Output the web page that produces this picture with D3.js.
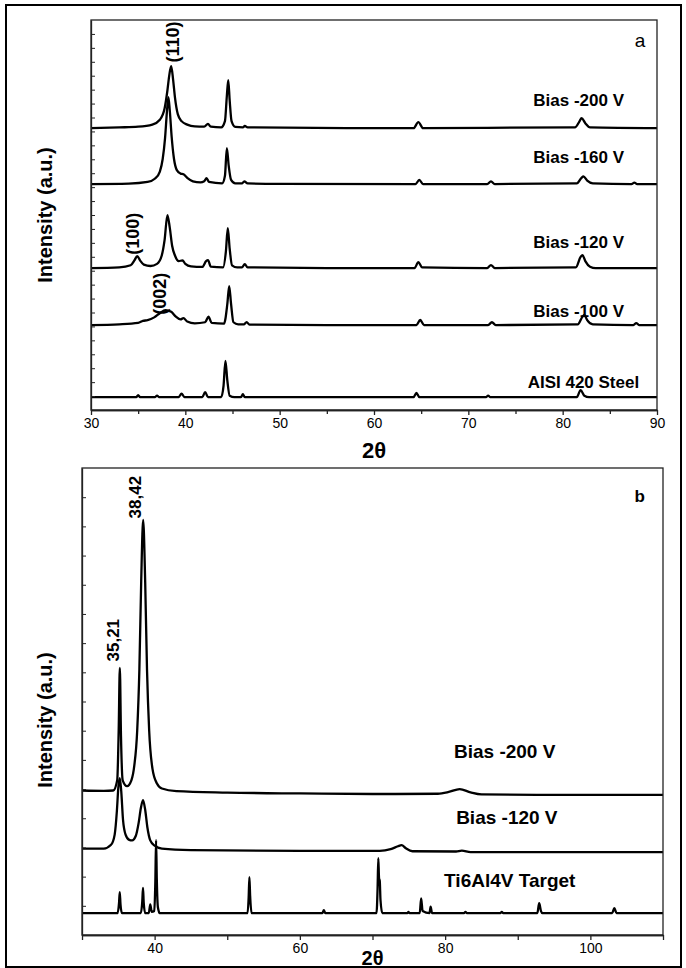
<!DOCTYPE html>
<html><head><meta charset="utf-8">
<script src="https://cdn.jsdelivr.net/npm/d3@7"></script>
<style>
body{margin:0;background:#fff}
svg{display:block}
text{font-family:"Liberation Sans",Arial,Helvetica,sans-serif;fill:#000}
</style>
</head><body>
<svg id="chart" width="686" height="968"></svg>
<script>
// ---------- Panel a data: [2theta, relative intensity (a.u.)] ----------
const seriesA = ["Bias -200 V", "Bias -160 V", "Bias -120 V", "Bias -100 V", "AISI 420 Steel"];
const offsetsA = [20.24, 16.22, 10.19, 6.10, 0.93];
const bias200A = [[30,0],[33,0.05],[35,0.1],[36.5,0.25],[37.3,0.6],[37.8,1.4],[38.1,2.7],[38.3,3.8],[38.5,4.45],[38.7,3.5],[38.9,2.2],[39.2,1.0],[39.6,0.5],[40.2,0.25],[41,0.12],[42,0.1],[42.4,0.3],[42.7,0.1],[43.8,0.05],[44.2,0.5],[44.4,2.3],[44.55,3.45],[44.7,2.0],[44.9,0.5],[45.3,0.08],[46.1,0.05],[46.3,0.15],[46.6,0.05],[60,0],[64.2,0],[64.7,0.43],[65.2,0],[72,0.02],[81.3,0.05],[81.8,0.5],[82.0,0.72],[82.4,0.35],[82.9,0.05],[90,0]];
const bias160A = [[30,0],[34,0.03],[36,0.15],[36.8,0.4],[37.3,0.9],[37.6,1.8],[37.85,3.3],[38.05,5.2],[38.2,6.25],[38.35,5.3],[38.55,3.4],[38.8,1.8],[39.1,1.0],[39.5,0.75],[39.8,0.7],[40.2,0.45],[40.8,0.2],[41.6,0.12],[42.0,0.2],[42.25,0.43],[42.5,0.15],[43.9,0.05],[44.2,0.6],[44.4,2.58],[44.6,1.3],[44.85,0.3],[45.3,0.05],[46.0,0.05],[46.25,0.2],[46.6,0.05],[50,0.02],[64.4,0],[64.8,0.3],[65.2,0],[72.0,0],[72.4,0.2],[72.8,0],[81.5,0.05],[82.0,0.45],[82.2,0.55],[82.6,0.25],[83.2,0.05],[87.3,0],[87.6,0.1],[87.9,0],[90,0]];
const bias120A = [[30,0],[33,0.05],[34.2,0.2],[34.6,0.55],[34.9,0.85],[35.2,0.55],[35.6,0.25],[36.3,0.15],[37.0,0.3],[37.5,0.9],[37.8,2.0],[38.1,3.8],[38.35,2.9],[38.6,1.6],[38.9,0.9],[39.3,0.5],[39.7,0.55],[40.0,0.3],[40.6,0.12],[41.8,0.08],[42.2,0.5],[42.4,0.57],[42.7,0.1],[44.0,0.05],[44.3,1.2],[44.5,2.87],[44.7,1.4],[44.95,0.2],[45.5,0.05],[46.0,0.05],[46.3,0.29],[46.6,0.05],[55,0],[64.3,0],[64.7,0.43],[65.1,0.05],[72.0,0],[72.4,0.21],[72.8,0],[81.4,0.05],[81.9,0.8],[82.1,0.93],[82.4,0.5],[82.9,0.1],[83.5,0],[90,0]];
const bias100A = [[30,0],[33,0.05],[35,0.15],[35.5,0.3],[36,0.35],[36.7,0.55],[37.3,0.85],[37.9,1.07],[38.5,0.95],[39.0,0.6],[39.5,0.4],[39.8,0.5],[40.2,0.25],[41,0.12],[42.1,0.2],[42.45,0.6],[42.8,0.15],[44.1,0.1],[44.45,1.5],[44.65,2.8],[44.85,1.5],[45.1,0.2],[45.6,0.05],[46.2,0.05],[46.5,0.21],[46.8,0.03],[55,0],[64.5,0],[64.9,0.36],[65.3,0],[72.1,0],[72.5,0.2],[72.9,0],[81.6,0.05],[82.1,0.6],[82.3,0.72],[82.6,0.35],[83.2,0.05],[87.5,0],[87.8,0.14],[88.1,0],[90,0]];
const steelA = [[30,0],[34.8,0],[35.0,0.14],[35.2,0],[36.8,0],[37.0,0.1],[37.2,0],[39.3,0],[39.6,0.25],[39.9,0],[41.8,0],[42.1,0.36],[42.4,0],[43.8,0],[44.05,0.8],[44.25,2.6],[44.45,1.2],[44.7,0.1],[45.2,0],[45.9,0],[46.1,0.2],[46.3,0],[64.2,0],[64.5,0.29],[64.8,0],[71.9,0],[72.1,0.1],[72.3,0],[81.5,0],[81.9,0.5],[82.3,0.1],[82.8,0],[90,0]];
const xTicksA = [30, 40, 50, 60, 70, 80, 90];
const xMinorA = [35, 45, 55, 65, 75, 85];
const yTicksA = [1,2,3,4,5,6,7,8,9,10,11,12,13,14,15,16,17,18,19,20,21,22,23,24,25,26,27];
const labelsA = [[81.7, 22.25], [81.7, 18.16], [81.7, 12.06], [81.7, 7.04], [82.2, 2.01]];
const peakTextA = ["(110)", "(100)", "(002)"];
const peakPosA = [[38.68, 26.42], [34.4, 12.65], [37.3, 8.35]];

// ---------- Panel b data ----------
const seriesB = ["Bias -200 V", "Bias -120 V", "Ti6Al4V Target"];
const offsetsB = [4.80, 2.84, 0.75];
const bias200B = [[30,0.15],[33,0.14],[34.3,0.15],[34.85,0.5],[35.05,2.2],[35.21,4.35],[35.37,2.0],[35.6,0.5],[36.2,0.3],[36.8,0.5],[37.2,1.0],[37.6,2.2],[37.9,4.3],[38.15,7.3],[38.42,9.42],[38.7,7.3],[38.95,4.3],[39.25,2.2],[39.7,0.9],[40.3,0.4],[41,0.22],[43,0.13],[50,0.08],[60,0.05],[70,0.03],[79,0.04],[80.5,0.1],[82,0.2],[83.5,0.09],[85,0.02],[95,0],[110,0]];
const bias120B = [[30,0.12],[33,0.12],[34.0,0.25],[34.5,0.6],[34.8,1.4],[35.0,2.2],[35.2,2.53],[35.4,2.1],[35.65,1.1],[36.0,0.6],[36.5,0.42],[36.9,0.4],[37.4,0.55],[37.8,1.0],[38.1,1.5],[38.4,1.78],[38.7,1.45],[39.0,0.85],[39.4,0.4],[40,0.22],[41,0.12],[45,0.07],[60,0.04],[71,0.04],[72.5,0.1],[73.5,0.2],[74.0,0.24],[74.6,0.13],[75.5,0.03],[81.5,0.02],[82.3,0.05],[83.5,0],[110,0]];
const targetB = [[30,0],[34.9,0],[35.1,0.35],[35.2,0.72],[35.3,0.3],[35.5,0],[38.1,0],[38.3,0.4],[38.4,0.86],[38.5,0.35],[38.7,0],[39.2,0],[39.4,0.3],[39.6,0.04],[39.95,0.07],[40.1,1.1],[40.2,2.5],[40.3,1.15],[40.45,0.2],[40.7,0],[52.8,0],[52.95,0.55],[53.05,1.23],[53.15,0.6],[53.35,0],[63.1,0],[63.3,0.1],[63.5,0],[70.55,0],[70.7,0.85],[70.8,1.88],[70.9,1.2],[71.0,1.1],[71.1,0.45],[71.35,0],[74.8,0],[74.95,0.04],[75.1,0],[76.5,0],[76.7,0.5],[76.9,0.07],[77.85,0],[78.0,0.22],[78.2,0],[82.6,0],[82.8,0.04],[83.0,0],[87.6,0],[87.8,0.04],[88,0],[92.7,0],[92.95,0.34],[93.2,0.07],[93.4,0],[103.0,0],[103.3,0.17],[103.6,0],[110,0]];
const xTicksB = [40, 60, 80, 100];
const xMinorB = [30, 50, 70, 90, 110];
const yTicksB = [1,2,3,4,5,6,7,8,9,10,11,12,13,14,15];
const labelsB = [[88.2, 6.27], [88.5, 4.04], [88.9, 1.88]];
const peakTextB = ["38,42", "35,21"];
const peakPosB = [[37.3, 15.0], [34.27, 10.1]];

const curvesA = [bias200A, bias160A, bias120A, bias100A, steelA];
const curvesB = [bias200B, bias120B, targetB];

// ---------- drawing ----------
const svg = d3.select("#chart");
svg.append("rect").attr("x", 6).attr("y", 5).attr("width", 675).attr("height", 962)
  .attr("fill", "none").attr("stroke", "#000").attr("stroke-width", 2);

function panel(cfg) {
  const x = d3.scaleLinear().domain(cfg.xDomain).range([cfg.left, cfg.right]);
  const y = d3.scaleLinear().domain(cfg.yDomain).range([cfg.bottom, cfg.top]);
  const g = svg.append("g");

  const line = d3.line().x(d => x(d[0])).y(d => y(d[1])).curve(d3.curveMonotoneX);
  cfg.curves.forEach((c, i) => {
    const off = cfg.offsets[i];
    g.append("path")
      .datum(c.map(p => [p[0], p[1] + off]))
      .attr("d", line)
      .attr("fill", "none").attr("stroke", "#000")
      .attr("stroke-width", 2.3).attr("stroke-linejoin", "round");
  });

  g.append("rect").attr("x", cfg.left).attr("y", cfg.top)
    .attr("width", cfg.right - cfg.left).attr("height", cfg.bottom - cfg.top)
    .attr("fill", "none").attr("stroke", "#222").attr("stroke-width", 1.3);

  const ax = g.append("g").attr("transform", `translate(0,${cfg.bottom})`)
    .call(d3.axisBottom(x).tickValues(cfg.xTicks).tickSize(cfg.majorLen).tickSizeOuter(0).tickPadding(3));
  const axm = g.append("g").attr("transform", `translate(0,${cfg.bottom})`)
    .call(d3.axisBottom(x).tickValues(cfg.xMinor).tickSize(cfg.minorLen).tickSizeOuter(0).tickFormat(""));
  [ax, axm].forEach(a => {
    a.select(".domain").attr("stroke", "#222").attr("stroke-width", 1.3);
    a.selectAll(".tick line").attr("stroke", "#222").attr("stroke-width", 1.3);
  });
  ax.selectAll(".tick text").attr("font-size", 14)
    .attr("font-family", '"Liberation Sans",Arial,sans-serif').attr("fill", "#000");

  const ay = g.append("g").attr("transform", `translate(${cfg.left},0)`)
    .call(d3.axisLeft(y).tickValues(cfg.yTicks).tickSize(-4).tickSizeOuter(0).tickFormat(""));
  ay.select(".domain").attr("stroke", "#222").attr("stroke-width", 1.3);
  ay.selectAll(".tick line").attr("stroke", "#222").attr("stroke-width", 1);

  g.append("text").attr("x", (cfg.left + cfg.right) / 2).attr("y", cfg.xTitleY)
    .attr("text-anchor", "middle").attr("font-size", cfg.xTitleSize).attr("font-weight", "bold").text("2θ");
  g.append("text").attr("transform", `translate(${cfg.yTitleX},${cfg.yTitleY}) rotate(-90)`)
    .attr("text-anchor", "middle").attr("dominant-baseline", "central")
    .attr("font-size", 20).attr("font-weight", "bold").text("Intensity (a.u.)");

  cfg.series.forEach((s, i) => {
    g.append("text").attr("x", x(cfg.labels[i][0])).attr("y", y(cfg.labels[i][1]))
      .attr("text-anchor", "middle").attr("dominant-baseline", "central")
      .attr("font-size", cfg.labelSize).attr("font-weight", "bold").text(s);
  });
  cfg.peakText.forEach((t, i) => {
    const px = x(cfg.peakPos[i][0]), py = y(cfg.peakPos[i][1]);
    g.append("text").attr("transform", `translate(${px},${py}) rotate(-90)`)
      .attr("text-anchor", "middle").attr("dominant-baseline", "central")
      .attr("font-size", cfg.peakSize).attr("font-weight", "bold").text(t);
  });
  g.append("text").attr("x", x(cfg.letterPos[0])).attr("y", y(cfg.letterPos[1]))
    .attr("text-anchor", "middle").attr("dominant-baseline", "central")
    .attr("font-size", cfg.letterSize).attr("font-weight", cfg.letterWeight).text(cfg.letter);
}

panel({
  xDomain: [30, 90], yDomain: [0, 28], left: 91, right: 657, top: 20, bottom: 410,
  curves: curvesA, offsets: offsetsA,
  xTicks: xTicksA, xMinor: xMinorA, majorLen: 5, minorLen: 4, yTicks: yTicksA,
  xTitleY: 458, xTitleSize: 22, yTitleX: 45, yTitleY: 215,
  series: seriesA, labels: labelsA, labelSize: 17,
  peakText: peakTextA, peakPos: peakPosA, peakSize: 18,
  letter: "a", letterPos: [88.2, 26.56], letterSize: 19, letterWeight: "normal"
});

panel({
  xDomain: [30, 110], yDomain: [0, 16], left: 82, right: 663, top: 468, bottom: 935,
  curves: curvesB, offsets: offsetsB,
  xTicks: xTicksB, xMinor: xMinorB, majorLen: 5, minorLen: 5, yTicks: yTicksB,
  xTitleY: 965, xTitleSize: 20, yTitleX: 45, yTitleY: 720,
  series: seriesB, labels: labelsB, labelSize: 19,
  peakText: peakTextB, peakPos: peakPosB, peakSize: 17,
  letter: "b", letterPos: [106.8, 15.04], letterSize: 17, letterWeight: "bold"
});
</script>
</body></html>
